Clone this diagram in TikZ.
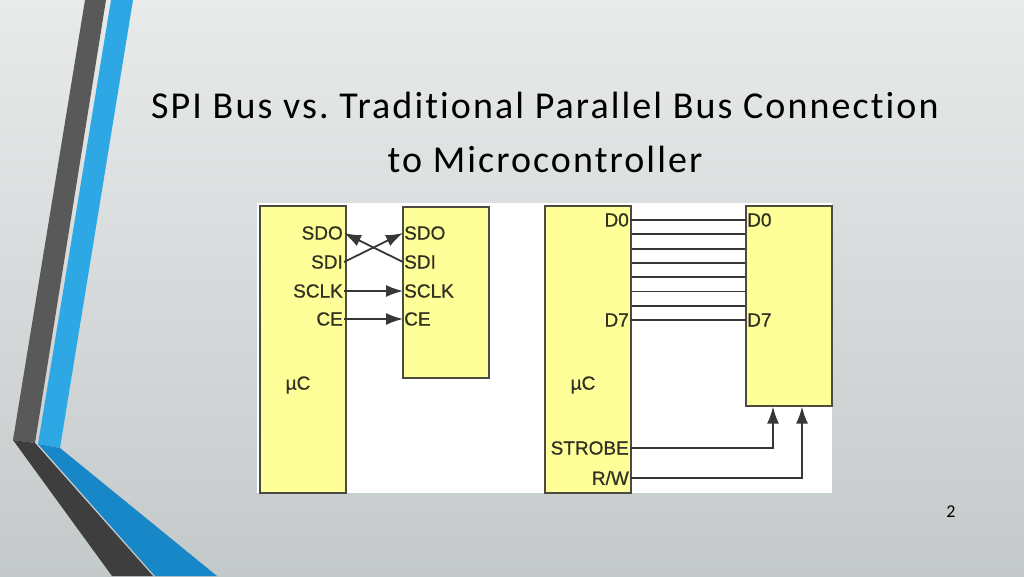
\documentclass[tikz,border=0pt]{standalone}
\usepackage{fontspec}
\setmainfont{Carlito}
\newfontfamily\titlefont[LetterSpace=5.5, Ligatures=NoCommon]{Carlito}
\newfontfamily\diagfont[FakeBold=0.8]{Liberation Sans}
\usetikzlibrary{arrows.meta}
\usetikzlibrary{positioning}
\usetikzlibrary{calc}
\definecolor{bgtop}{RGB}{233,235,235}
\definecolor{bgbottom}{RGB}{196,201,201}
\definecolor{stripedark}{RGB}{89,89,89}
\definecolor{stripedarklow}{RGB}{62,62,62}
\definecolor{stripeblue}{RGB}{46,168,229}
\definecolor{stripebluelow}{RGB}{24,135,200}
\definecolor{chipyellow}{RGB}{255,255,153}
\definecolor{chipedge}{RGB}{75,75,65}
\definecolor{wiregray}{RGB}{55,55,55}
\definecolor{labeltext}{RGB}{50,50,35}
\tikzset{chip/.style = {draw=chipedge, fill=chipyellow, line width=1.6pt, inner sep=0, anchor=north west}}
\tikzset{siglabel/.style = {font=\diagfont\fontsize{19}{19}\selectfont, text=labeltext, inner sep=1pt}}
\tikzset{wire/.style = {draw=wiregray, line width=1.8pt}}
\tikzset{wirearrow/.style = {wire, -{Latex[length=17pt, width=12pt]}}}
\tikzset{slidetitle/.style = {anchor=base, font=\titlefont\fontsize{38}{38}\selectfont}}

\begin{document}
\begin{tikzpicture}[x=1pt, y=-1pt]
      \useasboundingbox (0, 0) rectangle (1024, 576);
      \shade [top color=bgtop, bottom color=bgbottom] (0, 0) rectangle (1024, 576);

      \fill [stripedark] (85, 0) -- (106, 0) -- (35, 443) -- (13, 440) -- cycle;
      \fill [stripeblue] (111, 0) -- (133, 0) -- (60, 448) -- (38, 444) -- cycle;
      \fill [stripedarklow] (13, 440) -- (35, 443) -- (153, 576) -- (112, 576) -- cycle;
      \fill [stripebluelow] (38, 444) -- (60, 448) -- (217, 576) -- (155, 576) -- cycle;

      \node [slidetitle] (title1) at (545, 118) {SPI Bus vs.\ Traditional Parallel Bus Connection};
      \node [slidetitle] (title2) at (545, 172) {to Microcontroller};
      \node [anchor=base, font=\fontsize{18}{18}\selectfont] (pagenum) at (951, 517) {2};

      \fill [white] (257, 203) rectangle (832, 493);

      \node [chip, minimum width=86, minimum height=287] (smcu) at (259, 205) {};
      \node [chip, minimum width=86, minimum height=171] (sdev) at (402, 206) {};
      \node [chip, minimum width=86, minimum height=287] (pmcu) at (544, 205) {};
      \node [chip, minimum width=86, minimum height=200] (pdev) at (745, 205) {};

      \node [siglabel, anchor=east] (lsdo) at (344, 233) {SDO};
      \node [siglabel, anchor=east] (lsdi) at (344, 262) {SDI};
      \node [siglabel, anchor=east] (lsclk) at (344, 291) {SCLK};
      \node [siglabel, anchor=east] (lce) at (344, 319) {CE};
      \node [siglabel] (smculabel) at (298, 385) {µC};
      \node [siglabel, anchor=west] (rsdo) at (403, 233) {SDO};
      \node [siglabel, anchor=west] (rsdi) at (403, 262) {SDI};
      \node [siglabel, anchor=west] (rsclk) at (403, 291) {SCLK};
      \node [siglabel, anchor=west] (rce) at (403, 319) {CE};

      \draw [wirearrow] (lsdi.east) -- (rsdo.west);
      \draw [wirearrow] (rsdi.west) -- (lsdo.east);
      \draw [wirearrow] (lsclk.east) -- (rsclk.west);
      \draw [wirearrow] (lce.east) -- (rce.west);

      \node [siglabel, anchor=east] (ld0) at (630, 220) {D0};
      \node [siglabel, anchor=east] (ld7) at (630, 320) {D7};
      \node [siglabel] (pmculabel) at (583, 385) {µC};
      \node [siglabel, anchor=east] (strobe) at (630, 448) {STROBE};
      \node [siglabel, anchor=east] (rw) at (630, 478) {R/W};
      \node [siglabel, anchor=west] (rd0) at (746, 220) {D0};
      \node [siglabel, anchor=west] (rd7) at (746, 320) {D7};

      \draw [wire] (ld0.east) -- (rd0.west);
      \draw [wire] (ld7.east) -- (rd7.west);
      \foreach \k in {1,...,6}
        \draw [wire] ($(pmcu.north east)+(0, 15+\k*14.3)$) -- ($(pdev.north west)+(0, 15+\k*14.3)$);

      \coordinate (strobein) at ($(pdev.south west)+(28, 0)$);
      \coordinate (rwin) at ($(pdev.south west)+(57, 0)$);
      \draw [wirearrow] (strobe.east) -| (strobein);
      \draw [wirearrow] (rw.east) -| (rwin);
    \end{tikzpicture}
\end{document}
